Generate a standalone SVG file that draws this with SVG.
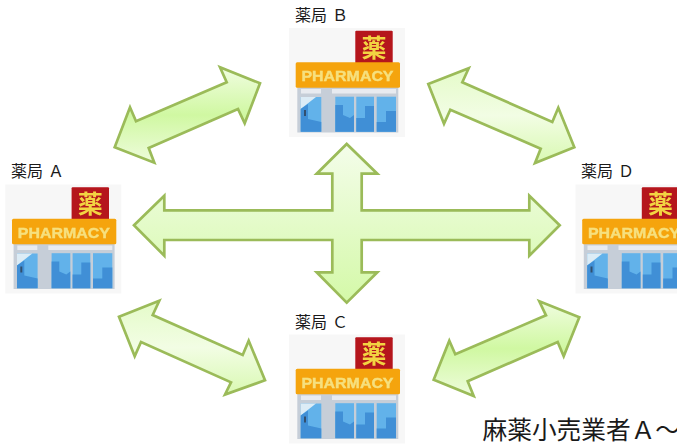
<svg xmlns="http://www.w3.org/2000/svg" width="677" height="444" viewBox="0 0 677 444">
<style>
.lbl{font-family:"Noto Sans CJK JP","Liberation Sans",sans-serif;font-size:16px;fill:#1a1a1a}
.arrow{stroke:#9bbb59;stroke-width:2.7;stroke-linejoin:miter}
.cap{font-family:"Noto Sans CJK JP","Liberation Sans",sans-serif;font-size:24.7px;fill:#1a1a1a}
</style>
<defs>
<linearGradient id="gc" x1="0" y1="0" x2="0" y2="1"><stop offset="0" stop-color="#f4fdea"/><stop offset="1" stop-color="#d4f9a8"/></linearGradient>
<linearGradient id="gd" x1="0" y1="0" x2="0" y2="1"><stop offset="0" stop-color="#f0fde0"/><stop offset=".5" stop-color="#d0f8a2"/><stop offset="1" stop-color="#eefcdc"/></linearGradient>
<linearGradient id="ge" x1="0" y1="0" x2="0" y2="1"><stop offset="0" stop-color="#e4fbc8"/><stop offset=".5" stop-color="#f2fde4"/><stop offset="1" stop-color="#d9f9b2"/></linearGradient>
<filter id="soft" x="-5%" y="-5%" width="110%" height="110%"><feGaussianBlur stdDeviation="0.6"/></filter>
<g id="shop" filter="url(#soft)">
<rect x="289" y="28" width="116" height="109" fill="#f7f7f7"/>
<rect x="297.300" y="87" width="101" height="45.500" fill="#c6ced8"/>
<rect x="301" y="89" width="20" height="4.500" fill="#e8ebf0"/>
<rect x="332" y="89" width="64" height="4.500" fill="#e8ebf0"/>
<rect x="355.300" y="30.700" width="37.400" height="33" rx="1" fill="#b5121b"/>
<text x="374" y="56.500" text-anchor="middle" style="font-family:'Noto Sans CJK JP',sans-serif;font-size:25px;font-weight:700" fill="#f2d442">薬</text>
<rect x="295.700" y="62.300" width="104.300" height="25.400" rx="1.500" fill="#f5a40f"/>
<text x="347.500" y="81" text-anchor="middle" textLength="92" lengthAdjust="spacingAndGlyphs" style="font-family:'Liberation Sans',sans-serif;font-size:15.500px;font-weight:700;stroke:#f6e07e;stroke-width:.4" fill="#f6e07e">PHARMACY</text>
<rect x="300.700" y="97" width="20.600" height="34.700" fill="#62b2ea"/>
<polygon points="300.700,97 316,97 300.700,109" fill="#dcecf6"/>
<polygon points="300.700,109 308,104 308,119 321.300,122 321.300,131.700 300.700,131.700" fill="#3f8fd6"/>
<rect x="304" y="110" width="2" height="6" fill="#33506e"/>
<rect x="335.300" y="96.700" width="18.700" height="35" fill="#62b2ea"/>
<rect x="356.300" y="96.700" width="17.700" height="35" fill="#62b2ea"/>
<rect x="376.700" y="96.700" width="19.300" height="35" fill="#62b2ea"/>
<polygon points="335.300,105 343,105 343,115 350,118 354,115 354,131.700 335.300,131.700" fill="#3f8fd6"/>
<polygon points="356.300,118 365,118 365,106 374,106 374,131.700 356.300,131.700" fill="#3f8fd6"/>
<polygon points="376.700,122 386,122 386,111 396,111 396,131.700 376.700,131.700" fill="#3f8fd6"/>
</g>
</defs>
<rect width="677" height="444" fill="#ffffff"/>
<g id="connectors">
<polygon class="arrow" fill="url(#gd)" points="260,83.300 220,67.300 226.700,82.300 136,121.300 130,107.300 114.700,147.300 154.300,162.700 148.700,148 238,109 244.700,123.300"/>
<polygon class="arrow" fill="url(#ge)" points="428.300,84 468.700,68.300 462.300,82.300 552.300,122 558.300,107.700 574.300,147.300 535,163 540.700,148.700 450.300,109.700 444,123.700"/>
<polygon class="arrow" fill="url(#ge)" points="119,316.700 159.300,300.700 152.700,315 242.700,355 248.700,340.700 265,380.300 225,394.500 231,382.300 141,342 134.700,356.300"/>
<polygon class="arrow" fill="url(#gd)" points="579.300,317.300 539.300,301.300 546,315.300 455.300,354.300 449.300,340.700 433.700,379.700 473.700,396 467.700,381.300 557.700,342 563.700,356.300"/>
<polygon class="arrow" fill="url(#gc)" points="134,225.300 164.300,195.700 164.300,210.300 332.300,210.300 332.300,173.700 316.700,173.700 346.700,144 377.300,173.700 361.700,173.700 361.700,210.300 529.300,210.300 529.300,195.700 559.700,225.300 529.300,255.700 529.300,240 361.700,240 361.700,272.300 377.300,272.300 346.700,302.700 316.700,272.300 332.300,272.300 332.300,240 164.300,240 164.300,255.700"/>
</g>
<g id="pharmacy-b"><use href="#shop"/><text class="lbl" x="295" y="21">薬局<tspan dx="5">Ｂ</tspan></text></g>
<g id="pharmacy-a"><use href="#shop" transform="translate(-283.700,156.500)"/><text class="lbl" x="11" y="177">薬局<tspan dx="5">Ａ</tspan></text></g>
<g id="pharmacy-c"><use href="#shop" transform="translate(0,306.500)"/><text class="lbl" x="295" y="328">薬局<tspan dx="5">Ｃ</tspan></text></g>
<g id="pharmacy-d"><use href="#shop" transform="translate(286.500,156.500)"/><text class="lbl" x="581" y="177">薬局<tspan dx="5">Ｄ</tspan></text></g>
<text id="caption" class="cap" x="482.500" y="439">麻薬小売業者Ａ～</text>
</svg>
